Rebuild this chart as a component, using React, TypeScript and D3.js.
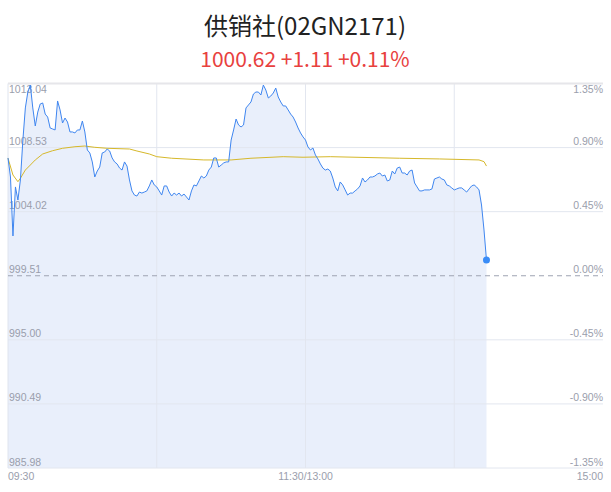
import * as d3 from "d3";

const W = 611;
const H = 492;

// minute index (0 = 09:30, 120 = 11:30/13:00, 240 = 15:00)
const PRICE = [
  1007.8, 1006.46, 1002.31, 1005.76, 1004.84, 1006.25, 1009.06, 1011.32, 1012.44, 1012.93,
  1011.32, 1010.05, 1011.03, 1011.6, 1011.67, 1010.89, 1010.68, 1009.91, 1009.84, 1009.77,
  1011.81, 1011.18, 1010.26, 1010.61, 1010.33, 1009.63, 1009.63, 1009.56, 1009.77, 1009.77,
  1010.4, 1009.63, 1008.36, 1008.15, 1007.52, 1006.46, 1006.88, 1007.16, 1008.15, 1008.22,
  1008.43, 1008.29, 1007.8, 1007.52, 1007.38, 1007.09, 1006.95, 1007.52, 1007.23, 1006.25,
  1005.48, 1005.19, 1005.12, 1005.4, 1005.33, 1005.4, 1005.48, 1005.83, 1006.25, 1005.9,
  1005.76, 1005.48, 1005.19, 1005.83, 1005.83, 1005.4, 1005.12, 1005.33, 1005.19, 1005.33,
  1005.12, 1005.26, 1005.05, 1004.84, 1005.48, 1005.9, 1005.83, 1006.18, 1006.53, 1006.39,
  1006.53, 1006.95, 1007.16, 1007.8, 1007.8, 1007.16, 1007.3, 1007.45, 1007.52, 1007.52,
  1009.06, 1009.77, 1010.54, 1010.12, 1009.98, 1010.12, 1011.32, 1011.53, 1011.74, 1012.3,
  1012.44, 1012.44, 1012.23, 1012.93, 1012.58, 1012.02, 1012.16, 1012.37, 1012.72, 1012.09,
  1011.74, 1011.46, 1011.46, 1011.18, 1010.89, 1010.68, 1010.33, 1009.91, 1009.56, 1009.28,
  1009.06, 1008.57, 1008.36, 1008.5, 1008.01, 1007.73, 1007.38, 1007.09, 1006.95, 1007.02,
  1006.88, 1006.39, 1005.76, 1005.48, 1006.11, 1005.9, 1005.55, 1005.19, 1005.33, 1005.33,
  1005.48, 1005.62, 1005.83, 1006.39, 1006.11, 1006.25, 1006.46, 1006.46, 1006.53, 1006.67,
  1006.74, 1006.53, 1006.6, 1006.18, 1006.25, 1006.88, 1006.67, 1007.09, 1007.16, 1006.74,
  1006.74, 1006.6, 1006.88, 1006.95, 1006.04, 1005.76, 1005.48, 1005.48, 1005.55, 1005.55,
  1005.55, 1005.62, 1006.32, 1006.39, 1006.46, 1006.32, 1006.25, 1005.9, 1005.83, 1005.69,
  1005.55, 1005.62, 1005.69, 1005.69, 1005.55, 1005.4, 1005.62, 1005.83, 1005.9, 1005.76,
  1005.55, 1004.49, 1002.73, 1000.62,
];

const AVG_MIN = [0, 2, 4, 5, 7, 9, 11, 14, 18, 22, 27, 31, 35, 40, 49, 52, 57, 60, 66, 79, 90, 98, 111, 119, 130, 158, 174, 190, 192, 193];
const AVG_VAL = [
  1007.78, 1006.6, 1006.13, 1006.37, 1006.95, 1007.3, 1007.66, 1008.08, 1008.31, 1008.48,
  1008.59, 1008.64, 1008.55, 1008.48, 1008.43, 1008.29, 1008.08, 1007.89, 1007.78, 1007.66,
  1007.66, 1007.78, 1007.89, 1007.85, 1007.89, 1007.78, 1007.73, 1007.66, 1007.54, 1007.23,
];

const PREV_CLOSE = 999.51;
const Y_TICKS = [1013.04, 1008.53, 1004.02, 999.51, 995.0, 990.49, 985.98];
const PCT_LABELS = ["1.35%", "0.90%", "0.45%", "0.00%", "-0.45%", "-0.90%", "-1.35%"];
const X_TICKS = [0, 120, 240];
const X_LABELS = ["09:30", "11:30/13:00", "15:00"];
const V_GRID = [60, 120, 180];

const LEFT = 8;
const RIGHT = 603;
const TOP = 83.5;
const BOTTOM = 468;

const AXIS_FONT = "'Liberation Sans', Arial, sans-serif";
const LABEL_COLOR = "#9a9eac";
const GRID = "#e2e6ef";

export default function App() {
  const x = d3.scaleLinear().domain([0, 240]).range([LEFT, RIGHT]);
  const y = d3.scaleLinear().domain([985.98, 1013.04]).range([BOTTOM, TOP]);

  const line = d3
    .line<number>()
    .x((_, i) => x(i))
    .y((d) => y(d));
  const area = d3
    .area<number>()
    .x((_, i) => x(i))
    .y0(BOTTOM)
    .y1((d) => y(d));
  const avgLine = d3
    .line<number>()
    .x((_, i) => x(AVG_MIN[i]))
    .y((d) => y(d));

  const last = PRICE.length - 1;

  return (
    <div style={{ position: "fixed", left: 0, top: 0, width: W, height: H, background: "#fff" }}>
      <svg width={W} height={H} style={{ display: "block" }}>
        <text
          x={305}
          y={35}
          textAnchor="middle"
          fontSize={24}
          fill="#222"
          fontFamily="'Noto Sans CJK SC', sans-serif"
        >
          供销社(02GN2171)
        </text>
        <text
          x={305}
          y={67}
          textAnchor="middle"
          fontSize={21}
          fill="#e8413e"
          fontFamily="'Noto Sans CJK SC', sans-serif"
        >
          1000.62 +1.11 +0.11%
        </text>

        {/* fill under price */}
        <path d={area(PRICE) ?? ""} fill="#e9effb" />

        {/* grid */}
        {Y_TICKS.slice(1).map((t) =>
          t === PREV_CLOSE ? null : (
            <line key={t} x1={LEFT} x2={RIGHT} y1={y(t)} y2={y(t)} stroke={GRID} strokeWidth={1} />
          ),
        )}
        {V_GRID.map((m) => (
          <line key={m} x1={x(m)} x2={x(m)} y1={TOP} y2={BOTTOM} stroke={GRID} strokeWidth={1} />
        ))}
        <line x1={LEFT} x2={LEFT} y1={TOP} y2={BOTTOM} stroke="#dfe4ee" strokeWidth={1} />
        <line x1={LEFT} x2={RIGHT} y1={TOP} y2={TOP} stroke="#e6e6ea" strokeWidth={2} />
        <line
          x1={LEFT}
          x2={RIGHT}
          y1={y(PREV_CLOSE)}
          y2={y(PREV_CLOSE)}
          stroke="#9ea3b2"
          strokeWidth={1}
          strokeDasharray="5,4"
        />

        {/* y labels */}
        {Y_TICKS.map((t, i) => {
          const by = i === 0 ? y(t) + 9 : y(t) - 2.5;
          return (
            <g key={t} fontFamily={AXIS_FONT} fontSize={10.5} fill={LABEL_COLOR}>
              <text x={LEFT + 1} y={by}>
                {t.toFixed(2)}
              </text>
              <text x={RIGHT} y={by} textAnchor="end">
                {PCT_LABELS[i]}
              </text>
            </g>
          );
        })}

        {/* x labels */}
        {X_TICKS.map((m, i) => (
          <text
            key={m}
            x={x(m)}
            y={480}
            textAnchor={i === 0 ? "start" : i === X_TICKS.length - 1 ? "end" : "middle"}
            fontFamily={AXIS_FONT}
            fontSize={10.5}
            fill={LABEL_COLOR}
          >
            {X_LABELS[i]}
          </text>
        ))}

        {/* average line */}
        <path d={avgLine(AVG_VAL) ?? ""} fill="none" stroke="#d6b82a" strokeWidth={1} />

        {/* price line */}
        <path d={line(PRICE) ?? ""} fill="none" stroke="#3f86f0" strokeWidth={1} strokeLinejoin="round" />
        <circle cx={x(last)} cy={y(PRICE[last])} r={3.5} fill="#3a8cf7" />
      </svg>
    </div>
  );
}
